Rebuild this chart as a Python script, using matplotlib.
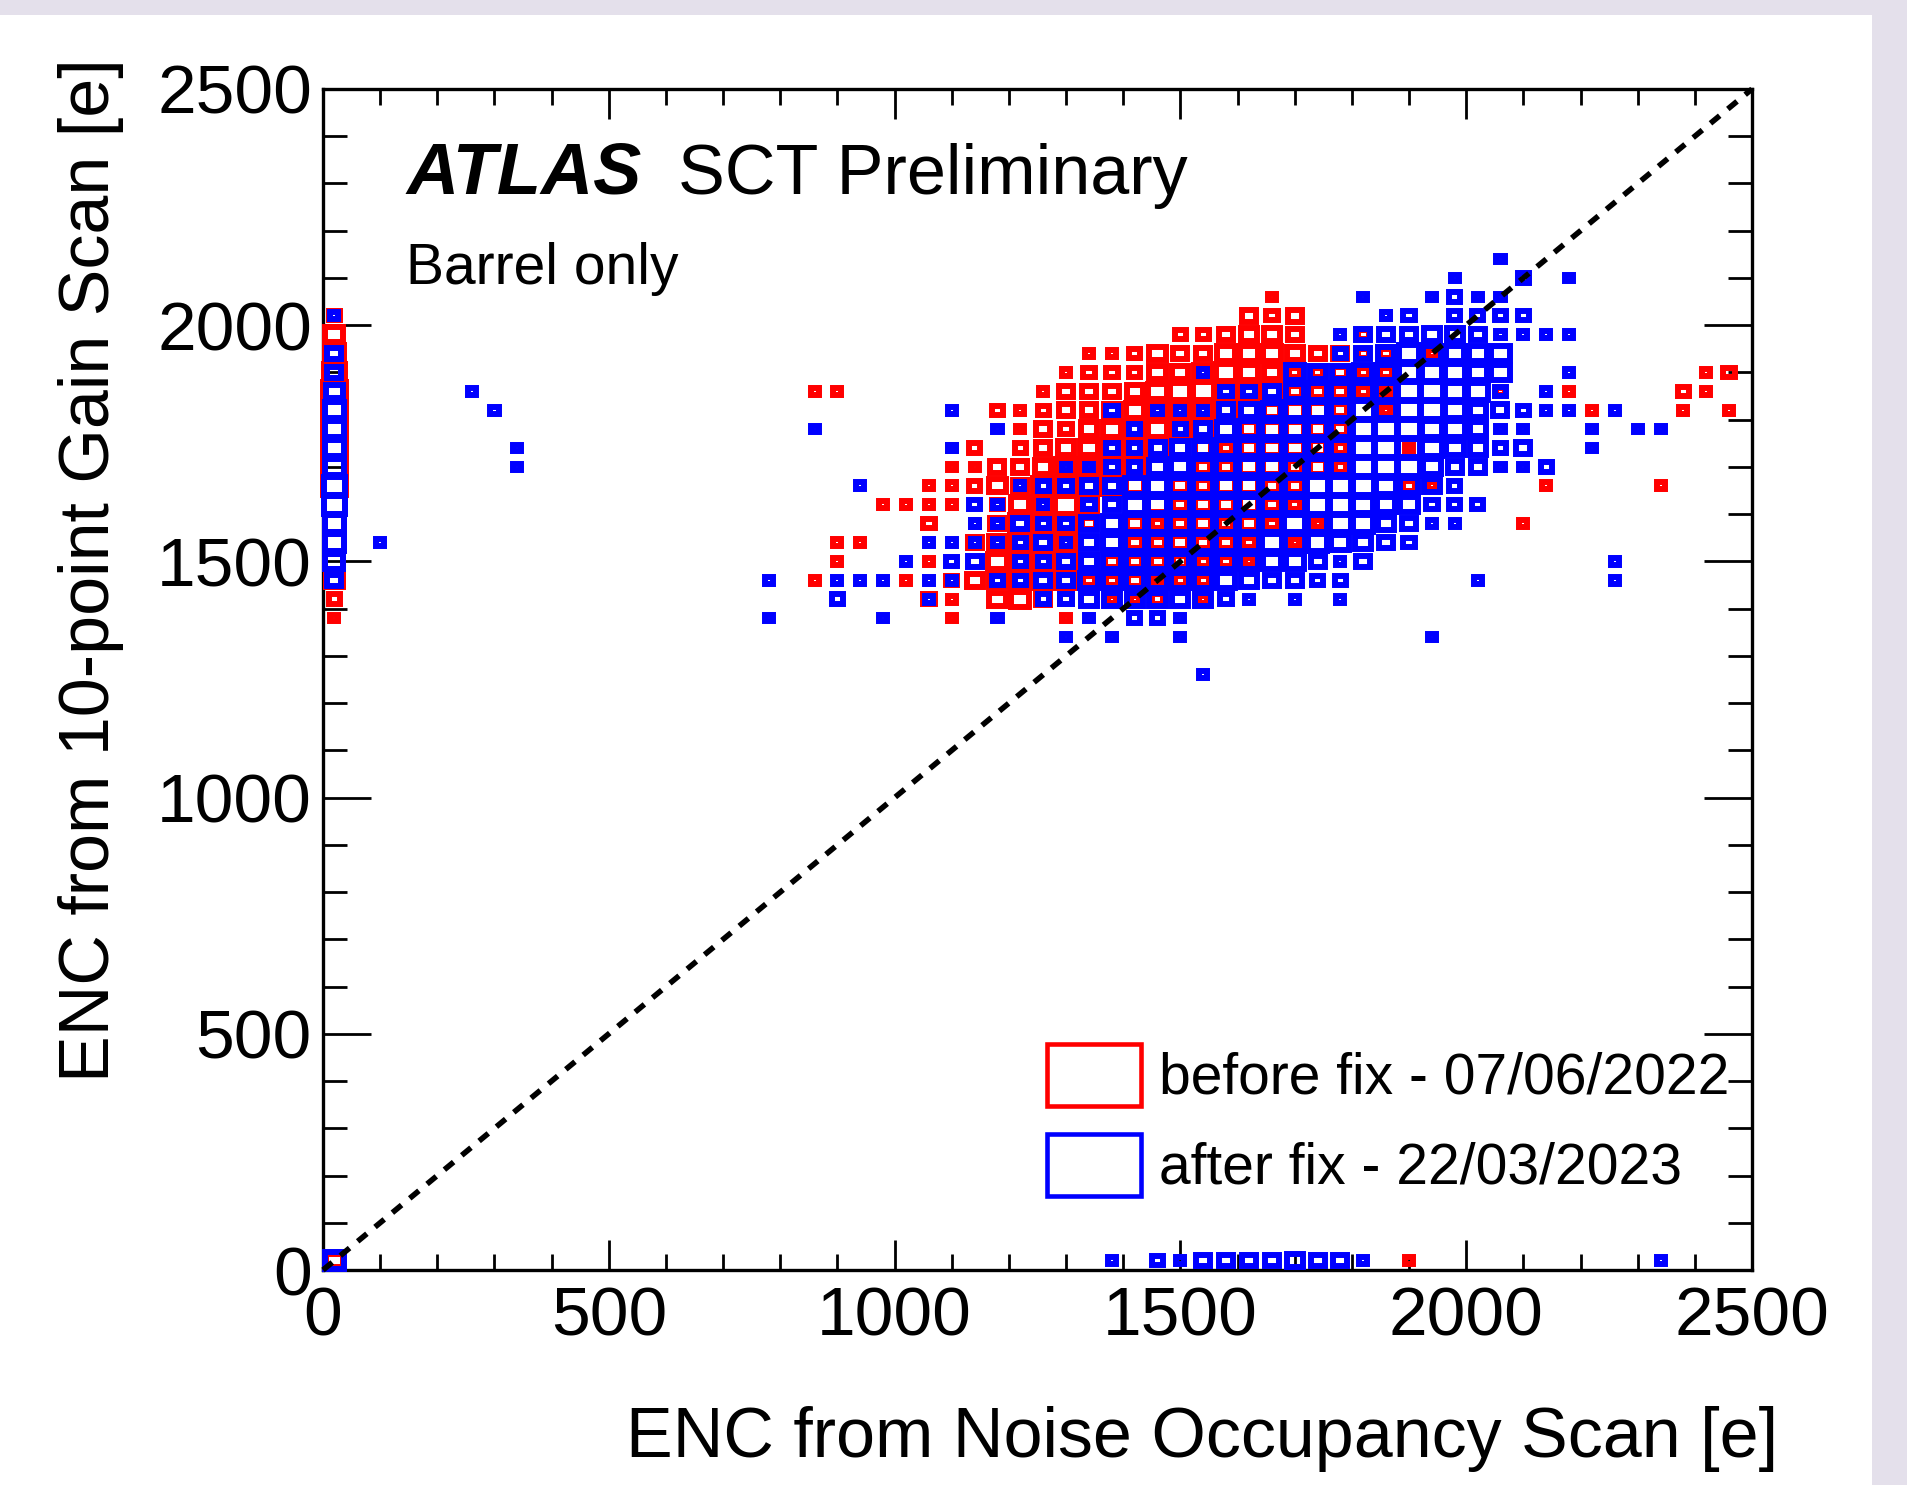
import numpy as np
import matplotlib
matplotlib.use('Agg')
import matplotlib.pyplot as plt
from matplotlib.patches import Rectangle
from matplotlib.ticker import MultipleLocator

plt.rcParams['font.family'] = ['Liberation Sans', 'DejaVu Sans']

W, H = 1908, 1485
BIN = 40.0
FULL_COUNT = 8.0   # count at which a box fills its bin

# modules per bin: {y bin: {x bin: count}}, bins are 40 e wide
before_fix = {
    51: {41: 1},
    50: {0: 2, 40: 3, 41: 2, 42: 3, 46: 1},
    49: {0: 5, 37: 2, 38: 2, 39: 3, 40: 4, 41: 4, 42: 3, 45: 2},
    48: {0: 6, 33: 1, 34: 1, 35: 2, 36: 4, 37: 3, 38: 3, 39: 5, 40: 5, 41: 5, 42: 4, 43: 3, 44: 3, 45: 2, 46: 2, 48: 1},
    47: {0: 7, 32: 1, 33: 2, 34: 2, 35: 2, 36: 4, 37: 4, 38: 5, 39: 6, 40: 5, 41: 4, 42: 2, 43: 2, 44: 3, 45: 2, 46: 2, 60: 1, 61: 2},
    46: {0: 8, 21: 1, 22: 1, 31: 1, 32: 3, 33: 3, 34: 3, 35: 4, 36: 5, 37: 6, 38: 7, 39: 6, 40: 6, 41: 5, 42: 3, 43: 3, 44: 3, 45: 2, 46: 1, 51: 1, 54: 1, 59: 2, 60: 1},
    45: {0: 8, 29: 2, 30: 1, 31: 2, 32: 3, 33: 3, 34: 4, 35: 5, 36: 5, 37: 5, 38: 6, 39: 6, 40: 5, 41: 4, 42: 5, 43: 5, 44: 3, 46: 1, 55: 1, 59: 1, 61: 1},
    44: {0: 8, 30: 1, 31: 3, 32: 2, 33: 4, 34: 5, 35: 6, 36: 6, 37: 6, 38: 6, 39: 5, 40: 4, 41: 5, 42: 5, 43: 4, 44: 3},
    43: {0: 8, 27: 1, 28: 2, 30: 2, 31: 3, 32: 4, 33: 5, 34: 6, 35: 6, 36: 5, 37: 4, 38: 4, 39: 2, 40: 4, 41: 5, 42: 5, 43: 4, 44: 2, 47: 1},
    42: {0: 8, 27: 1, 28: 1, 29: 3, 30: 3, 31: 4, 32: 6, 33: 6, 34: 6, 35: 5, 36: 4, 38: 3, 39: 3, 40: 5, 41: 5, 42: 3, 43: 4, 44: 2},
    41: {0: 8, 26: 1, 27: 1, 28: 2, 29: 4, 30: 3, 31: 6, 32: 6, 33: 6, 34: 6, 35: 5, 37: 4, 38: 3, 39: 5, 40: 5, 41: 3, 42: 3, 47: 2, 48: 1, 53: 1, 58: 1},
    40: {0: 7, 24: 1, 25: 1, 26: 1, 27: 1, 29: 2, 30: 5, 31: 6, 32: 7, 33: 4, 36: 5, 37: 3, 38: 4, 39: 4, 40: 5, 41: 3, 42: 2},
    39: {0: 6, 26: 2, 28: 1, 29: 3, 30: 6, 31: 6, 32: 6, 33: 3, 35: 4, 36: 2, 37: 3, 38: 4, 39: 3, 40: 4, 41: 2, 43: 1, 52: 1},
    38: {0: 6, 22: 1, 23: 1, 28: 3, 29: 4, 30: 5, 31: 6, 32: 5, 34: 5, 35: 3, 36: 3, 37: 4, 38: 3, 39: 3, 40: 2, 42: 1},
    37: {0: 5, 22: 1, 26: 1, 29: 5, 30: 6, 31: 6, 32: 6, 33: 4, 34: 3, 35: 3, 36: 3, 37: 3, 38: 2, 39: 2, 40: 1},
    36: {0: 4, 21: 1, 25: 1, 27: 2, 28: 4, 29: 4, 30: 5, 31: 5, 32: 5, 33: 2, 34: 2, 35: 3, 36: 2, 37: 2, 38: 2},
    35: {0: 2, 26: 2, 27: 1, 29: 4, 30: 5, 31: 3, 32: 2, 34: 1, 35: 1, 36: 2, 38: 1},
    34: {0: 1, 27: 1, 32: 1},
    0: {0: 4, 47: 1},
}

after_fix = {
    53: {51: 1},
    52: {49: 1, 52: 2, 54: 1},
    51: {45: 1, 48: 1, 49: 2, 50: 1, 51: 1},
    50: {0: 1, 46: 1, 47: 2, 49: 2, 50: 2, 51: 2, 52: 2},
    49: {44: 1, 45: 3, 46: 3, 47: 3, 48: 4, 49: 4, 50: 3, 51: 1, 52: 1, 53: 1, 54: 1},
    48: {0: 3, 44: 2, 45: 3, 46: 4, 47: 6, 48: 5, 49: 5, 50: 5, 51: 5},
    47: {0: 3, 38: 1, 42: 5, 43: 4, 44: 4, 45: 5, 46: 5, 47: 6, 48: 6, 49: 6, 50: 5, 51: 5, 54: 1},
    46: {0: 4, 6: 1, 39: 2, 40: 2, 41: 3, 42: 5, 43: 6, 44: 6, 45: 6, 46: 6, 47: 7, 48: 7, 49: 6, 50: 6, 51: 2, 53: 1},
    45: {0: 6, 7: 1, 27: 1, 34: 2, 36: 1, 37: 1, 38: 1, 39: 3, 40: 4, 41: 5, 42: 6, 43: 6, 44: 6, 45: 7, 46: 6, 47: 7, 48: 7, 49: 6, 50: 4, 51: 3, 52: 2, 53: 1, 54: 1, 56: 1},
    44: {0: 6, 21: 1, 29: 1, 35: 2, 37: 2, 38: 3, 39: 5, 40: 6, 41: 6, 42: 6, 43: 6, 44: 6, 45: 7, 46: 7, 47: 7, 48: 6, 49: 6, 50: 4, 51: 1, 52: 1, 55: 1, 57: 1, 58: 1},
    43: {0: 6, 8: 1, 27: 1, 34: 2, 35: 2, 36: 3, 37: 4, 38: 5, 39: 6, 40: 6, 41: 6, 42: 6, 43: 6, 44: 6, 45: 7, 46: 7, 47: 7, 48: 6, 49: 5, 50: 4, 51: 2, 52: 3, 55: 1},
    42: {0: 6, 8: 1, 32: 1, 33: 1, 34: 2, 35: 2, 36: 4, 37: 5, 38: 6, 39: 6, 40: 6, 41: 6, 42: 6, 43: 6, 44: 6, 45: 7, 46: 7, 47: 7, 48: 5, 49: 3, 50: 3, 51: 1, 52: 1, 53: 2},
    41: {0: 7, 23: 1, 30: 1, 31: 2, 32: 2, 33: 3, 34: 3, 35: 6, 36: 6, 37: 6, 38: 6, 39: 6, 40: 6, 41: 6, 42: 6, 43: 7, 44: 7, 45: 7, 46: 6, 47: 5, 48: 4, 49: 2},
    40: {0: 7, 28: 2, 29: 1, 31: 1, 33: 2, 34: 3, 35: 6, 36: 6, 37: 6, 38: 6, 39: 6, 40: 6, 41: 6, 42: 6, 43: 7, 44: 7, 45: 6, 46: 5, 47: 5, 48: 2, 49: 2, 50: 2},
    39: {0: 6, 28: 1, 29: 1, 30: 3, 31: 2, 32: 2, 33: 4, 34: 5, 35: 6, 36: 6, 37: 6, 38: 6, 39: 6, 40: 6, 41: 6, 42: 7, 43: 6, 44: 7, 45: 6, 46: 4, 47: 3, 48: 1, 49: 1},
    38: {0: 6, 2: 1, 26: 1, 27: 1, 28: 1, 29: 1, 30: 2, 31: 3, 32: 1, 33: 4, 34: 5, 35: 6, 36: 6, 37: 6, 38: 6, 39: 6, 40: 6, 41: 6, 42: 6, 43: 6, 44: 5, 45: 4, 46: 3, 47: 2},
    37: {0: 5, 25: 1, 27: 2, 28: 3, 30: 2, 31: 2, 32: 3, 33: 4, 34: 5, 35: 5, 36: 5, 37: 5, 38: 5, 39: 5, 40: 5, 41: 5, 42: 5, 43: 3, 44: 1, 45: 3, 56: 1},
    36: {0: 3, 19: 1, 22: 1, 23: 1, 24: 1, 26: 1, 27: 1, 29: 2, 30: 2, 31: 3, 32: 3, 33: 5, 34: 5, 35: 5, 36: 5, 37: 5, 38: 5, 39: 5, 40: 4, 41: 3, 42: 3, 43: 2, 44: 2, 50: 1, 56: 1},
    35: {22: 2, 26: 1, 31: 2, 32: 2, 33: 4, 34: 4, 35: 4, 36: 4, 37: 4, 38: 4, 39: 2, 40: 1, 42: 1, 44: 1},
    34: {19: 1, 24: 1, 29: 1, 33: 1, 35: 2, 36: 2, 37: 1},
    33: {32: 1, 34: 1, 37: 1, 48: 1},
    31: {38: 1},
    0: {0: 6, 34: 1, 36: 2, 37: 1, 38: 3, 39: 3, 40: 3, 41: 3, 42: 4, 43: 3, 44: 3, 45: 1, 58: 1},
}

legend_labels = ['before fix - 07/06/2022', 'after fix - 22/03/2023']
tick_values = [0, 500, 1000, 1500, 2000, 2500]


def px(x, y):
    """Reference pixel position to figure fraction."""
    return x / W, 1 - y / H


def draw_boxes(ax, table, color):
    for j in sorted(table):
        for i in sorted(table[j]):
            side = BIN * np.sqrt(table[j][i] / FULL_COUNT)
            xc = (i + 0.5) * BIN
            yc = (j + 0.5) * BIN
            ax.add_patch(Rectangle((xc - side / 2, yc - side / 2), side, side,
                                   fill=False, edgecolor=color, linewidth=4.3,
                                   zorder=3, clip_on=False))


fig = plt.figure(figsize=(W / 100, H / 100), dpi=100, facecolor='#e4e0eb')
fig.patches.append(Rectangle((0, 0), 1872 / W, 1 - 14.7 / H, transform=fig.transFigure,
                             facecolor='white', edgecolor='none', zorder=-5))

ax = fig.add_axes([323 / W, (H - 1270) / H, 1429 / W, 1181 / H])
ax.set_xlim(0, 2500)
ax.set_ylim(0, 2500)

draw_boxes(ax, before_fix, '#ff0000')
draw_boxes(ax, after_fix, '#0000ff')

ax.plot([0, 2500], [0, 2500], color='black', linewidth=4.0,
        linestyle=(0, (2.15, 1.9)), zorder=4, clip_on=False)

ax.set_xticks(tick_values)
ax.set_yticks(tick_values)
ax.xaxis.set_minor_locator(MultipleLocator(100))
ax.yaxis.set_minor_locator(MultipleLocator(100))
ax.tick_params(axis='x', which='major', direction='in', top=True, length=21.6, width=2.0, labelsize=50, pad=11)
ax.tick_params(axis='x', which='minor', direction='in', top=True, length=11.2, width=2.0)
ax.tick_params(axis='y', which='major', direction='in', right=True, length=34.5, width=2.0, labelsize=50, pad=8)
ax.tick_params(axis='y', which='minor', direction='in', right=True, length=17.3, width=2.0)
for spine in ax.spines.values():
    spine.set_linewidth(2.4)

fig.text(*px(1778, 1439), 'ENC from Noise Occupancy Scan [e]', fontsize=50.4,
         ha='right', va='center')
fig.text(*px(91, 58), 'ENC from 10-point Gain Scan [e]', fontsize=50.4,
         rotation=90, ha='center', va='top')

fig.text(*px(406, 175), 'ATLAS', fontsize=52, fontweight='bold', fontstyle='italic',
         ha='left', va='center')
fig.text(*px(678, 176), 'SCT Preliminary', fontsize=50.5, ha='left', va='center')
fig.text(*px(406, 269), 'Barrel only', fontsize=41, ha='left', va='center')

for label, color, y0 in zip(legend_labels, ['#ff0000', '#0000ff'], [1044, 1134]):
    fig.patches.append(Rectangle(px(1047, y0 + 62), 94 / W, 62 / H, transform=fig.transFigure,
                                 fill=False, edgecolor=color, linewidth=3.3, zorder=5))
    fig.text(*px(1159, y0 + 34), label, fontsize=41, ha='left', va='center')

fig.savefig('out.png', dpi=100, facecolor=fig.get_facecolor())
